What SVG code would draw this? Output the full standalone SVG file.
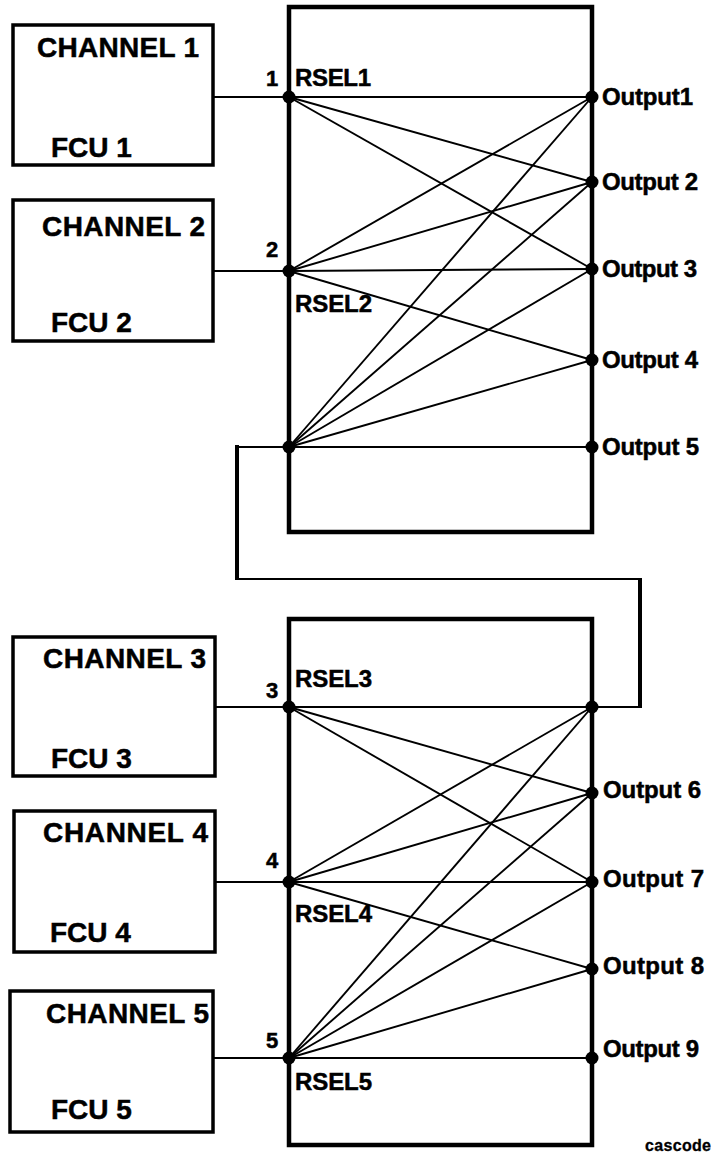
<svg xmlns="http://www.w3.org/2000/svg" width="714" height="1157" viewBox="0 0 714 1157">
<style>
.box{fill:none;stroke:#000;stroke-width:3.5}
.sw{fill:none;stroke:#000;stroke-width:4.5}
.ln{stroke:#000;stroke-width:1.9;fill:none}
.thick{stroke:#000;stroke-width:4;fill:none}
.dot{fill:#000}
text{font-family:"Liberation Sans",Arial,sans-serif;font-weight:bold;fill:#000;stroke:#000;stroke-width:0.5}
.big{font-size:28px}
.mid{font-size:24px}
.num{font-size:22px}
.out{font-size:24px}
.sm{font-size:16px;stroke-width:0.3}
</style>
<rect width="714" height="1157" fill="#fff"/>
<g id="connectors">
<line class="ln" x1="213" y1="97" x2="289" y2="97"/>
<line class="ln" x1="213" y1="271" x2="289" y2="271"/>
<line class="ln" x1="215" y1="707" x2="289" y2="707"/>
<line class="ln" x1="215" y1="882" x2="289" y2="882"/>
<line class="ln" x1="213" y1="1058" x2="289" y2="1058"/>
<line class="ln" x1="289" y1="97" x2="592" y2="97"/>
<line class="ln" x1="289" y1="97" x2="592" y2="182"/>
<line class="ln" x1="289" y1="97" x2="592" y2="269"/>
<line class="ln" x1="289" y1="271" x2="592" y2="97"/>
<line class="ln" x1="289" y1="271" x2="592" y2="182"/>
<line class="ln" x1="289" y1="271" x2="592" y2="269"/>
<line class="ln" x1="289" y1="271" x2="592" y2="360"/>
<line class="ln" x1="289" y1="447" x2="592" y2="97"/>
<line class="ln" x1="289" y1="447" x2="592" y2="182"/>
<line class="ln" x1="289" y1="447" x2="592" y2="269"/>
<line class="ln" x1="289" y1="447" x2="592" y2="360"/>
<line class="ln" x1="289" y1="447" x2="592" y2="447"/>
<line class="ln" x1="289" y1="707" x2="592" y2="707"/>
<line class="ln" x1="289" y1="707" x2="592" y2="793"/>
<line class="ln" x1="289" y1="707" x2="592" y2="882"/>
<line class="ln" x1="289" y1="882" x2="592" y2="707"/>
<line class="ln" x1="289" y1="882" x2="592" y2="793"/>
<line class="ln" x1="289" y1="882" x2="592" y2="882"/>
<line class="ln" x1="289" y1="882" x2="592" y2="969"/>
<line class="ln" x1="289" y1="1058" x2="592" y2="707"/>
<line class="ln" x1="289" y1="1058" x2="592" y2="793"/>
<line class="ln" x1="289" y1="1058" x2="592" y2="882"/>
<line class="ln" x1="289" y1="1058" x2="592" y2="969"/>
<line class="ln" x1="289" y1="1058" x2="592" y2="1058"/>
<g id="cascade-link">
<line class="ln" x1="289" y1="447" x2="237" y2="447"/>
<line class="thick" x1="237" y1="445" x2="237" y2="580"/>
<line class="ln" x1="237" y1="579" x2="640" y2="579"/>
<line class="thick" x1="640" y1="578" x2="640" y2="708"/>
<line class="ln" x1="640" y1="707" x2="592" y2="707"/>
</g>
</g>
<g id="switch-top">
<rect class="sw" x="289" y="7" width="303" height="525"/>
<text class="mid" x="295" y="86" textLength="76">RSEL1</text>
<text class="mid" x="295" y="312" textLength="77">RSEL2</text>
<text class="num" x="266" y="86">1</text>
<text class="num" x="266" y="257">2</text>
<text class="out" x="602" y="105" textLength="91">Output1</text>
<text class="out" x="602" y="190" textLength="96">Output 2</text>
<text class="out" x="602" y="277" textLength="95">Output 3</text>
<text class="out" x="602" y="368" textLength="96">Output 4</text>
<text class="out" x="602" y="455" textLength="97">Output 5</text>
</g>
<g id="switch-bottom">
<rect class="sw" x="289" y="619" width="303" height="526"/>
<text class="mid" x="295" y="687" textLength="77">RSEL3</text>
<text class="mid" x="295" y="922" textLength="77">RSEL4</text>
<text class="mid" x="295" y="1090" textLength="77">RSEL5</text>
<text class="num" x="266" y="698">3</text>
<text class="num" x="266" y="868">4</text>
<text class="num" x="266" y="1048">5</text>
<text class="out" x="603" y="798" textLength="98">Output 6</text>
<text class="out" x="603" y="887" textLength="101">Output 7</text>
<text class="out" x="603" y="974" textLength="101">Output 8</text>
<text class="out" x="603" y="1057" textLength="96">Output 9</text>
</g>
<g id="dots">
<circle class="dot" cx="289" cy="97" r="6.5"/>
<circle class="dot" cx="289" cy="271" r="6.5"/>
<circle class="dot" cx="289" cy="447" r="6.5"/>
<circle class="dot" cx="592" cy="97" r="6.5"/>
<circle class="dot" cx="592" cy="182" r="6.5"/>
<circle class="dot" cx="592" cy="269" r="6.5"/>
<circle class="dot" cx="592" cy="360" r="6.5"/>
<circle class="dot" cx="592" cy="447" r="6.5"/>
<circle class="dot" cx="289" cy="707" r="6.5"/>
<circle class="dot" cx="289" cy="882" r="6.5"/>
<circle class="dot" cx="289" cy="1058" r="6.5"/>
<circle class="dot" cx="592" cy="707" r="6.5"/>
<circle class="dot" cx="592" cy="793" r="6.5"/>
<circle class="dot" cx="592" cy="882" r="6.5"/>
<circle class="dot" cx="592" cy="969" r="6.5"/>
<circle class="dot" cx="592" cy="1058" r="6.5"/>
</g>
<g id="channel1">
<rect class="box" x="13" y="25" width="200" height="140"/>
<text class="big" x="37" y="57" textLength="162">CHANNEL 1</text>
<text class="big" x="51" y="157">FCU 1</text>
</g>
<g id="channel2">
<rect class="box" x="13" y="200" width="200" height="141"/>
<text class="big" x="42" y="236" textLength="163">CHANNEL 2</text>
<text class="big" x="51" y="332">FCU 2</text>
</g>
<g id="channel3">
<rect class="box" x="13" y="637" width="202" height="139"/>
<text class="big" x="43" y="668" textLength="163">CHANNEL 3</text>
<text class="big" x="51" y="768">FCU 3</text>
</g>
<g id="channel4">
<rect class="box" x="14" y="811" width="201" height="141"/>
<text class="big" x="43" y="842" textLength="165">CHANNEL 4</text>
<text class="big" x="50" y="942">FCU 4</text>
</g>
<g id="channel5">
<rect class="box" x="10" y="991" width="203" height="141"/>
<text class="big" x="46" y="1023" textLength="163">CHANNEL 5</text>
<text class="big" x="51" y="1119">FCU 5</text>
</g>
<text class="sm" x="645" y="1151" textLength="66">cascode</text>
</svg>
